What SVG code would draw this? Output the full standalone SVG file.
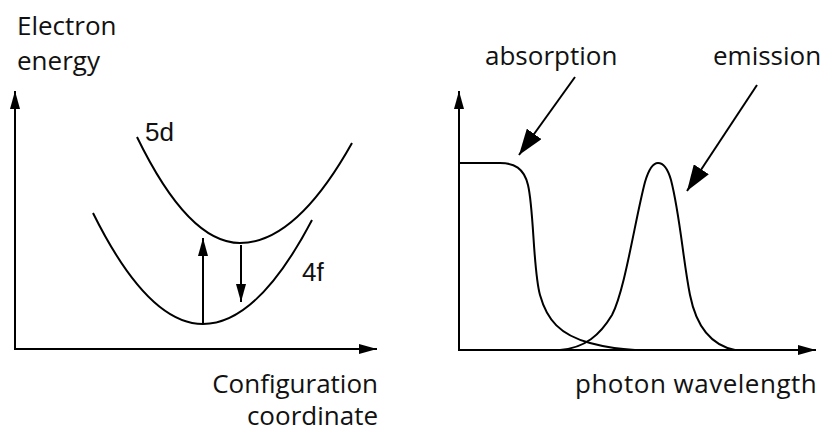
<svg xmlns="http://www.w3.org/2000/svg" width="825" height="432" viewBox="0 0 825 432">
<style>
.ln{fill:none;stroke:#000;stroke-width:2;}
.t{font-family:"Open Sans","Noto Sans",sans-serif;font-size:26px;fill:#111;}
.h{font-family:"Liberation Sans",Arial,sans-serif;font-size:26px;fill:#111;}
</style>
<defs>
<marker id="ah" viewBox="0 0 18 10" markerUnits="userSpaceOnUse" markerWidth="18" markerHeight="10" refX="18" refY="5" orient="auto">
<path d="M0,0 L18,5 L0,10 z" fill="#000"/>
</marker>
<marker id="big" viewBox="0 0 26 18" markerUnits="userSpaceOnUse" markerWidth="26" markerHeight="18" refX="26" refY="9" orient="auto">
<path d="M0,0 L26,9 L0,18 z" fill="#000"/>
</marker>
</defs>
<rect width="825" height="432" fill="#fff"/>

<g id="left-axes">
<path class="ln" d="M15,349 V91" marker-end="url(#ah)"/>
<path class="ln" d="M14,349 H377" marker-end="url(#ah)"/>
<text class="t" x="17" y="35">Electron</text>
<text class="t" x="17" y="70">energy</text>
<text class="t" x="378" y="393" text-anchor="end">Configuration</text>
<text class="t" x="378" y="425" text-anchor="end">coordinate</text>
</g>

<g id="curve-5d">
<path class="ln" d="M137,137 Q188.5,243 240,243 Q296,243 352,143"/>
<text class="h" x="145" y="141">5d</text>
</g>

<g id="curve-4f">
<path class="ln" d="M93,213 Q148,324 203,324 Q257.5,324 312,220"/>
<text class="h" x="302" y="281">4f</text>
</g>

<g id="connectors">
<path class="ln" d="M203,324 V238" marker-end="url(#ah)"/>
<path class="ln" d="M241,245 V302" marker-end="url(#ah)"/>
<path class="ln" d="M575,77 L519,155" marker-end="url(#big)"/>
<path class="ln" d="M757,85 L687,191" marker-end="url(#big)"/>
</g>

<g id="right-axes">
<path class="ln" d="M459,350 V91" marker-end="url(#ah)"/>
<path class="ln" d="M458,350 H816" marker-end="url(#ah)"/>
<text class="t" x="575" y="393" letter-spacing="0.5">photon wavelength</text>
</g>

<g id="absorption">
<path class="ln" d="M459,163 H500 C514,163 524,168 528,185 C534,210 533,270 540,295 C547,320 560,335 590,343 C605,347 615,349 635,350"/>
<text class="t" x="485" y="65">absorption</text>
</g>

<g id="emission">
<path class="ln" d="M560,350 C585,348 600,335 612,315 C625,290 635,220 645,182 C650,165 655,163 658,163 C662,163 667,166 671,180 C680,215 683,260 690,295 C696,325 710,345 735,350"/>
<text class="t" x="713" y="65">emission</text>
</g>
</svg>
